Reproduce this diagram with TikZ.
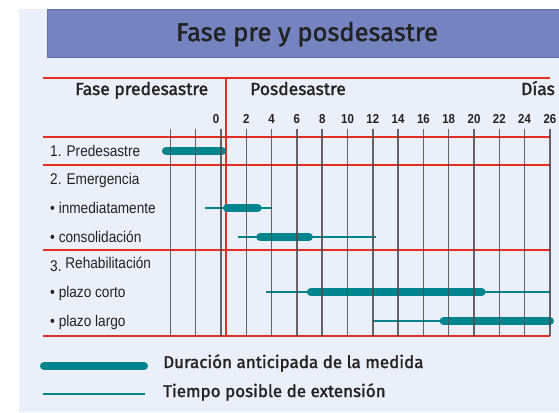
\documentclass[tikz,border=0pt]{standalone}
\usepackage{fontspec}
\setmainfont{Liberation Sans}
\newfontfamily\headfont[FakeBold=1.6]{Fira Sans}
\newfontfamily\rowfont[FakeStretch=0.88]{Liberation Sans}
\newfontfamily\numfont[FakeStretch=0.88]{Liberation Sans}
\definecolor{fondo}{HTML}{EBEFF9}
\definecolor{azultitulo}{HTML}{7584C0}
\definecolor{rojo}{HTML}{E42E24}
\definecolor{petroleo}{HTML}{00848E}
\definecolor{texto}{HTML}{222222}

\begin{document}
\begin{tikzpicture}[x=1pt,y=-1pt,
	rayo/.style={rojo,line width=1.2pt},
	rejilla/.style={black!70,line width=1.5pt,opacity=.85},
	gruesa/.style={petroleo,line width=8pt,line cap=round},
	fina/.style={petroleo,line width=1.3pt},
	fila/.style={anchor=base west,inner sep=0pt,text=texto,font=\rowfont\fontsize{15.5}{17}\selectfont},
	cabecera/.style={anchor=base west,inner sep=0pt,text=texto,font=\headfont\fontsize{17.5}{20}\selectfont},
	leyenda/.style={cabecera,font=\headfont\fontsize{17}{20}\selectfont},
	dia/.style={anchor=base,inner sep=0pt,text=texto,font=\numfont\bfseries\fontsize{13}{15}\selectfont}]
	\useasboundingbox (0,0) rectangle (559,412);
	\def\xo{221} %x of day 0
	\def\dx{12.65} %width of one day
	
	\fill[fondo] (19,9) rectangle (559,412);
	\filldraw[fill=azultitulo,draw=azultitulo!85!black] (47,9.5) rectangle (560,57);
	\node[anchor=base,inner sep=0pt,text=texto,font=\headfont\fontsize{25.5}{28}\selectfont] (titulo) at (307,41) {Fase pre y posdesastre};
	
	% headers and day numbers
	\node[cabecera] (predes) at (75,95) {Fase predesastre};
	\node[cabecera] (posdes) at (250,95) {Posdesastre};
	\node[cabecera,anchor=base east] (dias) at (555,95) {Días};
	\node[dia] (d0) at (216,123) {0};
	\foreach \d in {2,4,...,26}
		\node[dia] (d\d) at ({\xo+\dx*\d},123) {\d};
	
	% red frame
	\foreach \y in {78,137,165,250,336}
		\draw[rayo] (43,\y) -- (550,\y);
	\draw[rayo] (226,78) -- (226,336);
	
	% rows
	\node[fila] (r1) at (50,156) {1. Predesastre};
	\node[fila] (r2) at (50,184) {2. Emergencia};
	\node[fila] (r21) at (50,213) {\textbullet\ inmediatamente};
	\node[fila] (r22) at (50,242) {\textbullet\ consolidación};
	\node[fila] (r3) at (50,268) {\raisebox{-3.5pt}{3.} Rehabilitación};
	\node[fila] (r31) at (50,297) {\textbullet\ plazo corto};
	\node[fila] (r32) at (50,326) {\textbullet\ plazo largo};
	
	% bars: extension (thin) then duration (thick), in days
	\foreach \y/\a/\b/\c/\e in {208/-1.26/0.47/2.9/3.95, 237/1.34/3.1/6.95/12.25, 292/3.56/7.1/20.6/26, 321/12/17.6/26/26}
	{
		\draw[fina] ({\xo+\dx*\a},\y) -- ({\xo+\dx*\e},\y);
		\draw[gruesa] ({\xo+\dx*\b},\y) -- ({\xo+\dx*\c},\y);
	}
	\draw[gruesa] ({\xo-\dx*4.35},151) -- ({\xo+\dx*0.08},151);
	
	% day grid
	\foreach \d in {-4,-2,...,26}
		\draw[rejilla] ({\xo+\dx*\d},129) -- ({\xo+\dx*\d},336);
	
	% legend
	\draw[gruesa] (44,366) -- (144,366);
	\draw[fina] (43,394) -- (145,394);
	\node[leyenda] (ley1) at (163,368) {Duración anticipada de la medida};
	\node[leyenda] (ley2) at (163,397) {Tiempo posible de extensión};
\end{tikzpicture}
\end{document}
